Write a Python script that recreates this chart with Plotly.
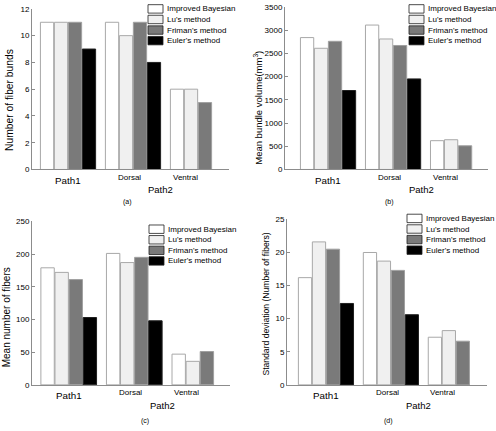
import plotly.graph_objects as go

W, H = 496, 431

methods = ["Improved Bayesian", "Lu's method", "Friman's method", "Euler's method"]
groups = [1, 2, 3]
fill_colors = ["#ffffff", "#f0f0f0", "#7a7a7a", "#000000"]
edge_colors = ["#a8a8a8", "#a8a8a8", "#a0a0a0", "#202020"]

# values: rows = methods, columns = Path1, Dorsal, Ventral
bundles = [[11, 11, 6], [11, 10, 6], [11, 11, 5], [9, 8, None]]
volume = [[2840, 3110, 620], [2610, 2810, 640], [2760, 2670, 510], [1700, 1950, None]]
fibers = [[179, 201, 47], [172, 187, 36], [161, 195, 51], [103, 98, None]]
stddev = [[16.2, 20.0, 7.2], [21.6, 18.7, 8.2], [20.5, 17.3, 6.6], [12.3, 10.6, None]]

ylabels = ["Number of fiber bunds", "Mean bundle volume(mm<sup>3</sup>)",
           "Mean number of fibers", "Standard deviation (Number of fibers)"]
yticks = [[0, 2, 4, 6, 8, 10, 12], [0, 500, 1000, 1500, 2000, 2500, 3000, 3500],
          [0, 50, 100, 150, 200, 250], [0, 5, 10, 15, 20, 25]]
panel_tags = ["(a)", "(b)", "(c)", "(d)"]
xlabels = ["Path1", "Dorsal", "Ventral"]
FONT = "Liberation Sans, Arial, sans-serif"

def px(x):
    return x / W

def py(y):
    return 1 - y / H

# layout geometry per panel (pixels)
panels = [
    dict(data=bundles, x0=32, x1=229, yt=5, yb=169, xr=[0.446, 3.477], yr=[0, 12],
         ytitle=(10, 98), tsize=10.3, leg=(148, 5), tag=(1.91, 33)),
    dict(data=volume, x0=285, x1=488, yt=3, yb=169, xr=[0.338, 3.46], yr=[0, 3500],
         ytitle=(258, 106), tsize=9.5, leg=(409, 5), tag=(1.95, 33)),
    dict(data=fibers, x0=32, x1=230, yt=222, yb=389, xr=[0.44, 3.46], yr=[0, 250],
         ytitle=(6, 320), tsize=10, leg=(149, 230), tag=(2.16, 36)),
    dict(data=stddev, x0=287, x1=487, yt=220, yb=389, xr=[0.40, 3.48], yr=[0, 25],
         ytitle=(266, 307), tsize=8.6, leg=(407, 219), tag=(1.96, 36)),
]

fig = go.Figure()
annotations = []
shapes = []
layout = {}

for i, p in enumerate(panels):
    n = "" if i == 0 else str(i + 1)
    xa, ya = "x" + n, "y" + n
    for m, name in enumerate(methods):
        fig.add_trace(go.Bar(
            x=groups, y=p["data"][m], name=name, xaxis=xa, yaxis=ya,
            marker=dict(color=fill_colors[m], line=dict(color=edge_colors[m], width=1)),
            showlegend=False, hoverinfo="y"))
    layout["xaxis" + n] = dict(
        domain=[px(p["x0"]), px(p["x1"])], range=p["xr"], anchor=ya,
        showline=True, linecolor="#8c8c8c", linewidth=1, ticks="",
        showticklabels=False, showgrid=False, zeroline=False, fixedrange=True)
    layout["yaxis" + n] = dict(
        domain=[py(p["yb"]), py(p["yt"])], range=p["yr"], anchor=xa,
        showline=True, linecolor="#8c8c8c", linewidth=1, ticks="inside",
        ticklen=3, tickcolor="#8c8c8c", tickvals=yticks[i],
        tickfont=dict(size=8, color="#000", family=FONT),
        showgrid=False, zeroline=False, fixedrange=True)

    # x category labels
    lab_pos = [(1.0, xlabels[0], 9.8, 11), (1.94, xlabels[1], 8, 8), (2.8, xlabels[2], 8, 8)]
    for xv, txt, fs, dy in lab_pos:
        annotations.append(dict(x=xv, y=0, xref=xa, yref=ya + " domain", text=txt,
                                showarrow=False, yanchor="middle", yshift=-dy,
                                font=dict(size=fs, family=FONT, color="#000")))
    annotations.append(dict(x=2.43, y=0, xref=xa, yref=ya + " domain", text="Path2",
                            showarrow=False, yanchor="middle", yshift=-20 if i < 2 else -21,
                            font=dict(size=9.5, family=FONT, color="#000")))
    tx_tag, dy_tag = p["tag"]
    annotations.append(dict(x=tx_tag, y=0, xref=xa, yref=ya + " domain", text=panel_tags[i],
                            showarrow=False, yanchor="middle", yshift=-dy_tag,
                            font=dict(size=7, family=FONT, color="#000")))
    # y title
    tx, ty = p["ytitle"]
    annotations.append(dict(x=px(tx), y=py(ty), xref="paper", yref="paper",
                            text=ylabels[i], textangle=-90, showarrow=False,
                            xanchor="center", yanchor="middle",
                            font=dict(size=p["tsize"], family=FONT, color="#000")))
    # legend
    lx, ly = p["leg"]
    for m, name in enumerate(methods):
        cy = ly + m * 10.8
        shapes.append(dict(type="rect", xref="paper", yref="paper",
                           x0=px(lx), x1=px(lx + 15), y0=py(cy - 4.3), y1=py(cy + 4.3),
                           fillcolor=fill_colors[m], line=dict(color="#202020", width=0.8)))
        annotations.append(dict(x=px(lx + 16.5), y=py(cy), xref="paper", yref="paper",
                                text=name, showarrow=False, xanchor="left", yanchor="middle",
                                font=dict(size=8, family=FONT, color="#000")))

fig.update_layout(
    width=W, height=H, margin=dict(l=0, r=0, t=0, b=0),
    paper_bgcolor="white", plot_bgcolor="white",
    barmode="group", bargap=0.14, bargroupgap=0.05,
    showlegend=False, annotations=annotations, shapes=shapes,
    font=dict(family=FONT, size=8, color="#000"),
    **layout)

fig.write_html("out.html", config={"displayModeBar": False},
               post_script="document.body.style.margin='0';document.body.style.padding='0';")
